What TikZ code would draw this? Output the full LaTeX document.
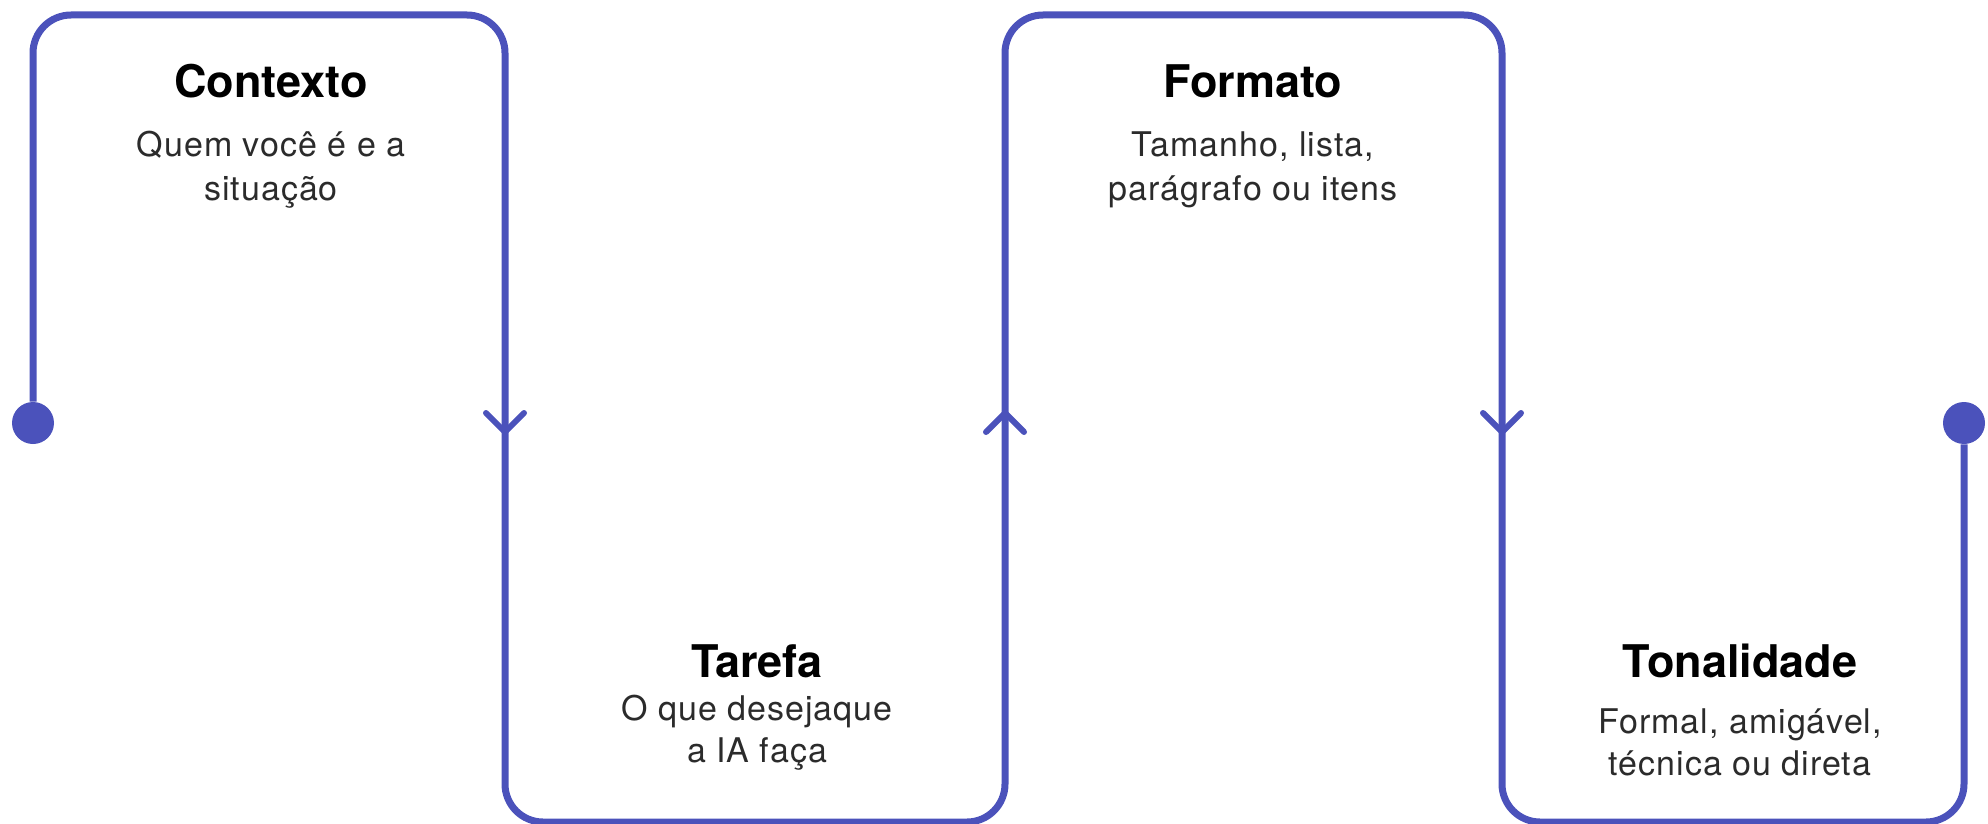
\documentclass[tikz,border=0pt]{standalone}
\usepackage{fontspec}
\usepackage{tikz}
\setmainfont{TeX Gyre Heros}
\newfontfamily\subfont{TeX Gyre Heros}[LetterSpace=3]
\definecolor{flowblue}{RGB}{75,82,187}
\definecolor{subgray}{RGB}{43,43,43}

\begin{document}
\begin{tikzpicture}[x=0.5pt, y=-0.5pt,
    flow/.style={draw=flowblue, line width=3.5pt, rounded corners=19pt},
    chev/.style={draw=flowblue, line width=3pt, line cap=round, line join=round},
    dot/.style={circle, fill=flowblue, minimum size=21pt, inner sep=0pt},
    title/.style={anchor=base, inner sep=0pt, font=\fontsize{22.5}{27}\selectfont\bfseries},
    sub/.style={anchor=base, inner sep=0pt, align=center, text=subgray,
        font=\subfont\fontsize{17}{22}\selectfont}]

    \useasboundingbox (0,0) rectangle (1988,824);

    % End points
    \node[dot] (start) at (33,423) {};
    \node[dot] (end) at (1964,423) {};

    % Path through the four boxes
    \draw[flow] (start) |- (505,15) -- (505,822) -- (1005,822) -- (1005,15)
        -- (1502,15) -- (1502,822) -- (1964,822) -- (end);

    % Arrow marks
    \draw[chev] (486,413) -- (505,432) -- (524,413);
    \draw[chev] (986,432) -- (1005,413) -- (1024,432);
    \draw[chev] (1483,413) -- (1502,432) -- (1521,413);

    % Contexto (sub text placed by its last baseline)
    \node[title] (contexto) at (271,98) {Contexto};
    \node[sub] (contextoText) at (271,200) {Quem você é e a\\situação};

    % Tarefa
    \node[title] (tarefa) at (757,677) {Tarefa};
    \node[sub, font=\subfont\fontsize{17}{21}\selectfont] (tarefaText) at (757,762) {O que desejaque\\a IA faça};

    % Formato
    \node[title] (formato) at (1253,98) {Formato};
    \node[sub, font=\subfont\fontsize{17}{21.5}\selectfont] (formatoText) at (1253,200) {Tamanho, lista,\\parágrafo ou itens};

    % Tonalidade
    \node[title] (tonalidade) at (1740,677) {Tonalidade};
    \node[sub, font=\subfont\fontsize{17}{21}\selectfont] (tonalidadeText) at (1740,775) {Formal, amigável,\\técnica ou direta};
\end{tikzpicture}
\end{document}
